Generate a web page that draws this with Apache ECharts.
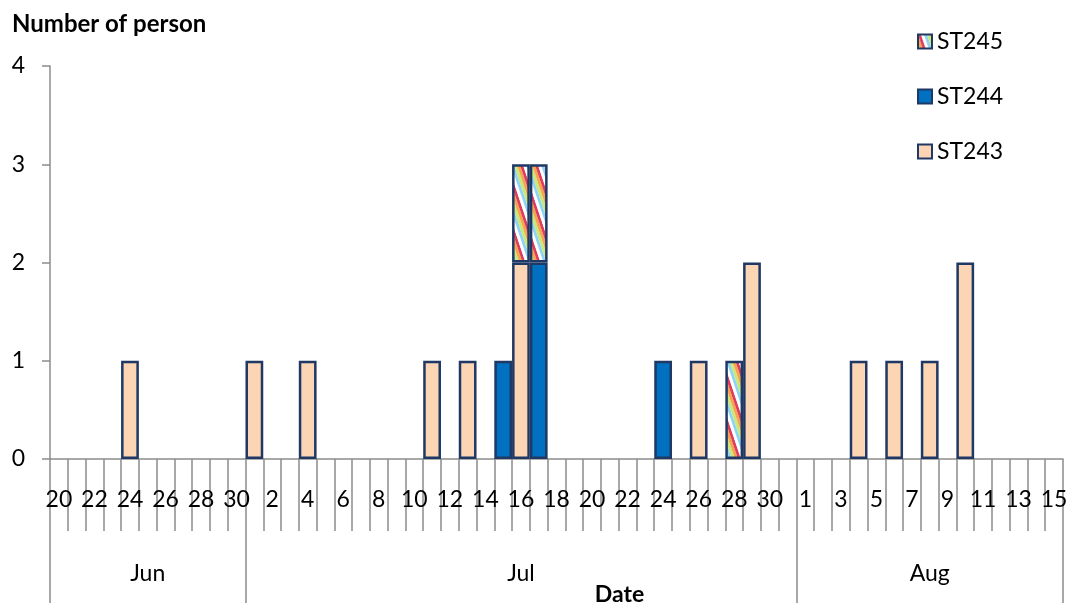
<!DOCTYPE html>
<html><head><meta charset="utf-8">
<script src="https://cdn.jsdelivr.net/npm/echarts@6/dist/echarts.min.js"></script>
<style>html,body{margin:0;padding:0;background:#fff}#c{width:1067px;height:603px}</style>
</head><body><div id="c"></div>
<script>
// ---- data ----
const dates = [
  'Jun 20','Jun 21','Jun 22','Jun 23','Jun 24','Jun 25','Jun 26','Jun 27','Jun 28','Jun 29','Jun 30',
  'Jul 1','Jul 2','Jul 3','Jul 4','Jul 5','Jul 6','Jul 7','Jul 8','Jul 9','Jul 10',
  'Jul 11','Jul 12','Jul 13','Jul 14','Jul 15','Jul 16','Jul 17','Jul 18','Jul 19','Jul 20',
  'Jul 21','Jul 22','Jul 23','Jul 24','Jul 25','Jul 26','Jul 27','Jul 28','Jul 29','Jul 30','Jul 31',
  'Aug 1','Aug 2','Aug 3','Aug 4','Aug 5','Aug 6','Aug 7','Aug 8','Aug 9','Aug 10',
  'Aug 11','Aug 12','Aug 13','Aug 14','Aug 15'
];
const st243 = [
  0,0,0,0,1,0,0,0,0,0,0,
  1,0,0,1,0,0,0,0,0,0, 1,0,1,0,0,2,0,0,0,0, 0,0,0,0,0,1,0,0,2,0, 0,
  0,0,0,1,0,1,0,1,0,2, 0,0,0,0,0
];
const st244 = [
  0,0,0,0,0,0,0,0,0,0,0,
  0,0,0,0,0,0,0,0,0,0, 0,0,0,0,1,0,2,0,0,0, 0,0,0,1,0,0,0,0,0,0, 0,
  0,0,0,0,0,0,0,0,0,0, 0,0,0,0,0
];
const st245 = [
  0,0,0,0,0,0,0,0,0,0,0,
  0,0,0,0,0,0,0,0,0,0, 0,0,0,0,0,1,1,0,0,0, 0,0,0,0,0,0,0,1,0,0, 0,
  0,0,0,0,0,0,0,0,0,0, 0,0,0,0,0
];
const seriesNames = ['ST243','ST244','ST245'];
const yMin = 0, yMax = 4, yStep = 1;

// ---- styles ----
const FONT = 'Lato, "Open Sans", sans-serif';
const AX = '#8c8c8c';
const BORDER = '#1f3864';

function stripePattern() {
  const P = 15, H = 45, cols = ['#e03c5c', '#ffffff', '#8fd4f5', '#c9e87a', '#f6a54c'];
  const cv = document.createElement('canvas');
  cv.width = P; cv.height = H;
  const g = cv.getContext('2d');
  g.fillStyle = '#fff'; g.fillRect(0, 0, P, H);
  for (let m = -3; m <= 2; m++) {
    cols.forEach((c, k) => {
      const x0 = m * P + k * 3;
      g.fillStyle = c;
      g.beginPath();
      g.moveTo(x0, 0); g.lineTo(x0 + 3, 0); g.lineTo(x0 + 3 + P, H); g.lineTo(x0 + P, H);
      g.closePath(); g.fill();
    });
  }
  return { image: cv, repeat: 'repeat' };
}

// month boundaries / centres derived from dates
const monthOf = d => d.split(' ')[0];
const monthStarts = [], monthMids = [];
let s = 0;
for (let i = 1; i <= dates.length; i++) {
  if (i === dates.length || monthOf(dates[i]) !== monthOf(dates[s])) {
    monthStarts.push(s);
    monthMids.push(s + Math.floor((i - s) / 2));
    s = i;
  }
}

const toBar = arr => arr.map(v => (v === 0 ? '-' : v));
const fills = { ST243: '#fcd5b5', ST244: '#0070c0', ST245: stripePattern() };
const vals = { ST243: st243, ST244: st244, ST245: st245 };

const chart = echarts.init(document.getElementById('c'), null, { renderer: 'canvas' });
chart.setOption({
  animation: false,
  textStyle: { fontFamily: FONT, color: '#000' },
  title: {
    text: 'Number of person', left: 12, top: 12, padding: 0,
    textStyle: { fontFamily: FONT, fontWeight: 'bold', fontSize: 24, color: '#000' }
  },
  legend: {
    orient: 'vertical', left: 917, top: 30, padding: 0, itemWidth: 14, itemHeight: 14, itemGap: 32,
    icon: 'rect', itemTextGap: 8,
    data: ['ST245', 'ST244', 'ST243'],
    textStyle: { fontFamily: FONT, fontSize: 23, color: '#000', lineHeight: 23 }
  },
  grid: { left: 50, right: 4, top: 66, bottom: 144, containLabel: false, outerBoundsMode: 'none' },
  xAxis: [{
    type: 'category', data: dates, position: 'bottom', boundaryGap: true,
    axisLine: { show: true, lineStyle: { color: AX, width: 1.5 } },
    axisTick: { show: true, interval: 0, length: 72, lineStyle: { color: AX, width: 1.5 } },
    axisLabel: {
      interval: 1, margin: 29, fontSize: 23, fontFamily: FONT, color: '#000',
      formatter: v => v.split(' ')[1]
    },
    splitLine: { show: false },
    name: 'Date', nameLocation: 'middle', nameGap: 124,
    nameTextStyle: { fontFamily: FONT, fontWeight: 'bold', fontSize: 23, color: '#000', padding: [0, 0, 0, 126] }
  }, {
    type: 'category', data: dates, position: 'bottom', gridIndex: 0, boundaryGap: true,
    axisLine: { show: false },
    axisTick: { show: true, interval: i => monthStarts.indexOf(i) >= 0, length: 160, lineStyle: { color: AX, width: 1.5 } },
    axisLabel: {
      interval: i => monthMids.indexOf(i) >= 0, margin: 103, fontSize: 23, fontFamily: FONT, color: '#000',
      formatter: v => monthOf(v)
    },
    splitLine: { show: false }
  }],
  yAxis: {
    type: 'value', min: yMin, max: yMax, interval: yStep,
    axisLine: { show: true, lineStyle: { color: AX, width: 1.5 } },
    axisTick: { show: true, length: 8, lineStyle: { color: AX, width: 1.5 } },
    axisLabel: { margin: 25, fontSize: 23, fontFamily: FONT, color: '#000' },
    splitLine: { show: false }
  },
  series: seriesNames.map(n => ({
    name: n, type: 'bar', stack: 'total', xAxisIndex: 0,
    barCategoryGap: '0%', barWidth: '100%',
    itemStyle: { color: fills[n], borderColor: BORDER, borderWidth: 2.5 },
    emphasis: { disabled: true },
    data: toBar(vals[n])
  }))
});
</script>
</body></html>
